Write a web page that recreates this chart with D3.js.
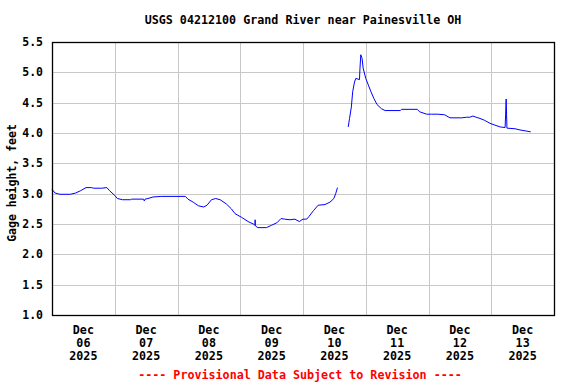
<!DOCTYPE html>
<html>
<head>
<meta charset="utf-8">
<script src="https://cdn.jsdelivr.net/npm/d3@7"></script>
<style>
  body { margin: 0; background: #fff; }
  text { font-family: "DejaVu Sans Mono", monospace; font-weight: bold; }
</style>
</head>
<body>
<svg id="chart" width="576" height="384"></svg>
<script>
// hours after Dec 06 2025 00:00, gage height in feet (null = gap)
var hours = [0, 1.2, 3, 7, 9, 11, 13, 15, 16, 19, 21, 22, 24, 25, 27, 30, 30.5, 35, 35.3, 35.6,
  36.7, 38.6, 41.8, 51, 52, 54, 56, 58, 59.3, 61, 62.6, 64.3, 66.7, 68.6, 70, 72.5, 75, 77,
  77.6, 77.7, 77.8, 78.7, 82, 84, 86, 87.6, 89, 91, 92.9, 94.6, 96, 97.4, 98.2, 100, 101.8,
  104.4, 106.3, 107.8, 108.5, 109.2, 111,
  113.3, 113.8, 114.5, 115, 115.7, 116.2, 117.6, 117.8, 118.1, 118.6, 119, 120, 121, 122,
  123.1, 124.3, 126, 127.4, 133.2, 133.7, 139.7, 140.6, 143.3, 145.2, 147.6, 150.2, 152.2,
  156.7, 158.6, 159.8, 161, 162.2, 163.7, 165.4, 167.5, 169.4, 171.4, 173.3, 173.5, 173.7,
  174, 177.1, 179, 181.7, 183.1];
var gage = [3.07, 3.01, 2.99, 2.99, 3.01, 3.05, 3.10, 3.10, 3.09, 3.09, 3.10, 3.05, 2.97, 2.92,
  2.90, 2.90, 2.91, 2.91, 2.88, 2.91, 2.92, 2.945, 2.955, 2.955, 2.91, 2.86, 2.80, 2.78, 2.81,
  2.90, 2.92, 2.90, 2.83, 2.75, 2.67, 2.61, 2.54, 2.50, 2.48, 2.57, 2.47, 2.44, 2.44, 2.48,
  2.52, 2.59, 2.58, 2.57, 2.58, 2.54, 2.58, 2.58, 2.62, 2.72, 2.81, 2.82, 2.86, 2.92, 3.00,
  3.10, null,
  4.10, 4.24, 4.43, 4.68, 4.84, 4.90, 4.88, 5.07, 5.29, 5.23, 5.07, 4.90, 4.79, 4.68, 4.57,
  4.47, 4.40, 4.37, 4.37, 4.39, 4.39, 4.35, 4.31, 4.31, 4.31, 4.30, 4.25, 4.25, 4.26, 4.26,
  4.28, 4.26, 4.24, 4.21, 4.16, 4.13, 4.10, 4.09, 4.31, 4.56, 4.08, 4.07, 4.05, 4.03, 4.02];

var yTicks = [1.0, 1.5, 2.0, 2.5, 3.0, 3.5, 4.0, 4.5, 5.0, 5.5];
var dayLabels = ["06", "07", "08", "09", "10", "11", "12", "13"];
var title = "USGS 04212100 Grand River near Painesville OH";
var yTitle = "Gage height, feet";
var footer = "---- Provisional Data Subject to Revision ----";

var svg = d3.select("#chart");
var plotL = 52, plotR = 554, plotT = 42, plotB = 315;

var start = new Date(2025, 11, 6);
var x = d3.scaleTime()
    .domain([start, d3.timeDay.offset(start, 8)])
    .range([plotL, plotR]);
var y = d3.scaleLinear().domain([1.0, 5.5]).range([plotB, plotT]);

var data = hours.map(function(h, i){
    return {t: new Date(start.getTime() + h * 3600000), v: gage[i]};
});

// grid
var gridDays = d3.range(1, 8).map(function(d){ return d3.timeDay.offset(start, d); });
svg.append("g").selectAll("line").data(gridDays).enter().append("line")
    .attr("x1", function(d){ return Math.round(x(d)) + 0.5; })
    .attr("x2", function(d){ return Math.round(x(d)) + 0.5; })
    .attr("y1", plotT).attr("y2", plotB)
    .attr("stroke", "#c8c8c8");
svg.append("g").selectAll("line").data(yTicks.slice(1, -1)).enter().append("line")
    .attr("x1", plotL).attr("x2", plotR)
    .attr("y1", function(d){ return Math.round(y(d)) + 0.5; })
    .attr("y2", function(d){ return Math.round(y(d)) + 0.5; })
    .attr("stroke", "#c8c8c8");

// data line
var line = d3.line()
    .defined(function(d){ return d.v != null; })
    .x(function(d){ return x(d.t); })
    .y(function(d){ return y(d.v); });
svg.append("path").datum(data)
    .attr("d", line)
    .attr("fill", "none")
    .attr("stroke", "#0000ff")
    .attr("stroke-width", 1);

// frame
svg.append("rect")
    .attr("x", plotL + 0.5).attr("y", plotT + 0.5)
    .attr("width", plotR - plotL).attr("height", plotB - plotT)
    .attr("fill", "none").attr("stroke", "#000").attr("stroke-width", 1.3);

// y tick labels
svg.append("g").selectAll("text").data(yTicks).enter().append("text")
    .attr("x", plotL - 9)
    .attr("y", function(d){ return y(d) + 4; })
    .attr("text-anchor", "end")
    .attr("font-size", 11.5)
    .text(function(d){ return d.toFixed(1); });

// x labels
var lab = svg.append("g").selectAll("text").data(dayLabels).enter().append("text")
    .attr("text-anchor", "middle")
    .attr("font-size", 11.7)
    .attr("transform", function(d, i){
        return "translate(" + x(d3.timeHour.offset(start, i * 24 + 12)) + ",0)";
    });
lab.append("tspan").attr("x", 0).attr("y", 334).text("Dec");
lab.append("tspan").attr("x", 0).attr("y", 347).text(function(d){ return d; });
lab.append("tspan").attr("x", 0).attr("y", 360).text("2025");

svg.append("text")
    .attr("x", 303).attr("y", 24)
    .attr("text-anchor", "middle")
    .attr("font-size", 11.7)
    .text(title);

svg.append("text")
    .attr("transform", "translate(16,183) rotate(-90)")
    .attr("text-anchor", "middle")
    .attr("font-size", 11.5)
    .text(yTitle);

svg.append("text")
    .attr("x", 300).attr("y", 379)
    .attr("text-anchor", "middle")
    .attr("font-size", 11.7)
    .attr("fill", "#ff0000")
    .text(footer);
</script>
</body>
</html>
